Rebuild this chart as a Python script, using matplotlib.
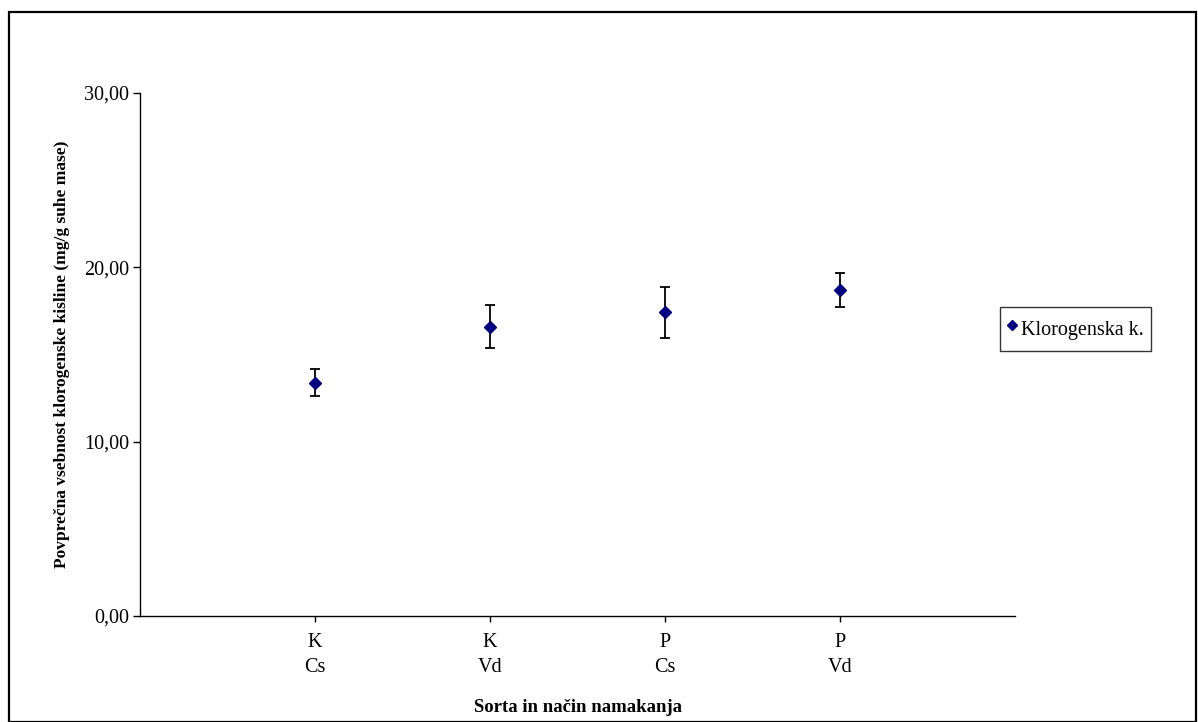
import numpy as np
import matplotlib
matplotlib.use("Agg")
import matplotlib.pyplot as plt
from matplotlib.patches import Rectangle
from matplotlib.lines import Line2D
from matplotlib.ticker import FuncFormatter

# Podatki
categories = ["K\nCs", "K\nVd", "P\nCs", "P\nVd"]
means = [13.38, 16.60, 17.42, 18.69]
errors = [0.77, 1.25, 1.46, 0.98]
series_name = "Klorogenska k."

plt.rcParams["font.family"] = ["Liberation Serif", "DejaVu Serif"]

W, H = 1198, 722
fig = plt.figure(figsize=(W / 100, H / 100), dpi=100)
ax = fig.add_axes([140 / W, 1 - 616 / H, 875 / W, (616 - 93) / H])

x = np.arange(1, len(categories) + 1)
ax.errorbar(x, means, yerr=errors, fmt="D", color="#000080", markersize=6.5,
            ecolor="black", elinewidth=1.3, capsize=3.5, capthick=1.3, zorder=3)

ax.set_xlim(0, len(categories) + 1)
ax.set_ylim(0, 30)
ax.set_yticks([0, 10, 20, 30])
ax.yaxis.set_major_formatter(FuncFormatter(lambda v, p: f"{v:.2f}".replace(".", ",")))
ax.set_xticks(x)
ax.set_xticklabels(categories, linespacing=1.45)

for s in ["top", "right"]:
    ax.spines[s].set_visible(False)
for s in ["left", "bottom"]:
    ax.spines[s].set_linewidth(1.0)

ax.tick_params(axis="y", direction="out", length=5, width=1, labelsize=14.5, pad=3)
ax.tick_params(axis="x", direction="out", length=4, width=1, labelsize=14.5, pad=8)

ax.set_ylabel("Povprečna vsebnost klorogenske kisline (mg/g suhe mase)",
              fontsize=12.5, fontweight="bold", labelpad=10)
ax.set_xlabel("Sorta in način namakanja", fontsize=13.5, fontweight="bold", labelpad=16)

handle = Line2D([], [], linestyle="none", marker="D", color="#000080", markersize=5)
leg = fig.legend([handle], [series_name], loc="center left",
                 bbox_to_anchor=(1000 / W, 1 - 329 / H),
                 fontsize=14.5, frameon=True, fancybox=False, edgecolor="black",
                 handlelength=0.5, handleheight=1.9, handletextpad=0.2,
                 borderpad=0.35, borderaxespad=0)
leg.get_frame().set_linewidth(1.0)

# okvir slike
fig.patches.append(Rectangle((9 / W, 0), (W - 11) / W, 1 - 12 / H, transform=fig.transFigure,
                             fill=False, edgecolor="black", linewidth=1.6))

fig.savefig("out.png", dpi=100)
